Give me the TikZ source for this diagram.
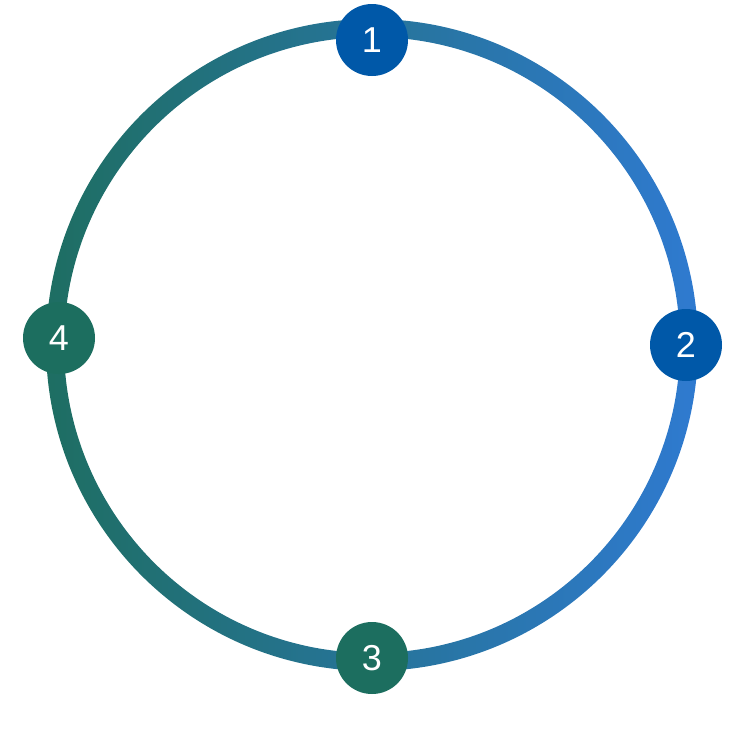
\documentclass[tikz,border=0pt]{standalone}
\usepackage{fontspec}
\setmainfont{Liberation Sans}
\definecolor{ringgreen}{HTML}{1E6E62}
\definecolor{ringblue}{HTML}{2F7AD0}
\definecolor{dotblue}{HTML}{0058A8}
\definecolor{dotgreen}{HTML}{1C6E5F}
\tikzset{
	stepdot/.style={circle,minimum size=72pt,inner sep=0pt,text=white,
		font=\fontsize{36}{36}\selectfont}
}
\begin{document}
\begin{tikzpicture}[x=1pt,y=-1pt]
	\useasboundingbox (0,0) rectangle (747,747);
	% ring with left-to-right shading
	\shade[left color=ringgreen,right color=ringblue,even odd rule]
		(372,345) circle (326) (372,345) circle (308);
	\node[stepdot,fill=dotblue] (s1) at (372,40) {1};
	\node[stepdot,fill=dotblue] (s2) at (686,345) {2};
	\node[stepdot,fill=dotgreen] (s3) at (372,658) {3};
	\node[stepdot,fill=dotgreen] (s4) at (59,338) {4};
\end{tikzpicture}
\end{document}
